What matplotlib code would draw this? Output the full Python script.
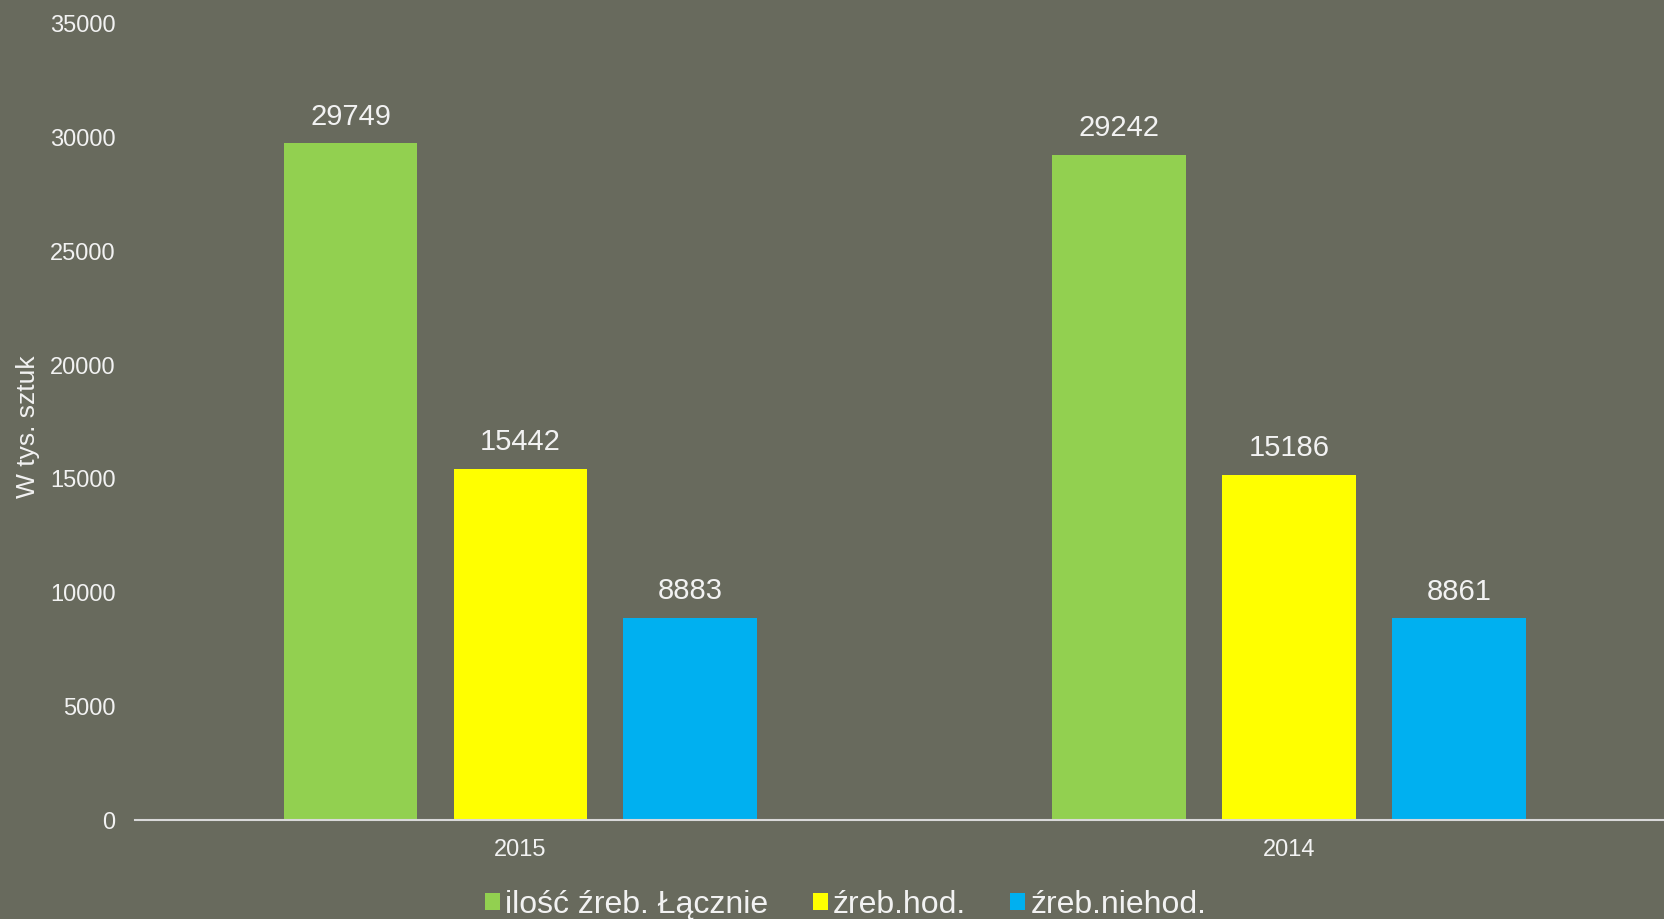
import matplotlib.pyplot as plt
import numpy as np

years = ["2015", "2014"]
series_names = ["ilość źreb. Łącznie", "źreb.hod.", "źreb.niehod."]
total = [29749, 29242]
hod = [15442, 15186]
niehod = [8883, 8861]
colors = ["#92D050", "#FFFF00", "#00B0F0"]

BG = "#686a5d"
TXT = "#f2f2f2"

plt.rcParams['font.family'] = ['Liberation Sans', 'DejaVu Sans']

fig = plt.figure(figsize=(16.65, 9.19), dpi=100, facecolor=BG)
ax = fig.add_axes([0.0811, 0.1077, 0.9189, 0.8662])
ax.set_facecolor(BG)

x = np.arange(len(years))
width = 0.174
step = 0.221
for i, (vals, name, col) in enumerate(zip([total, hod, niehod], series_names, colors)):
    bars = ax.bar(x + (i - 1) * step, vals, width, color=col, label=name)
    for b, v in zip(bars, vals):
        ax.annotate(str(v), (b.get_x() + b.get_width() / 2, v),
                    xytext=(0, 9), textcoords="offset points",
                    ha="center", va="bottom", color=TXT, fontsize=21)

ax.set_xlim(-0.5014, 1.489)
ax.set_ylim(0, 35000)
ax.set_yticks(range(0, 35001, 5000))
ax.set_xticks(x)
ax.set_xticklabels(years)
ax.tick_params(axis='y', length=0, pad=14, labelsize=17, labelcolor=TXT)
ax.tick_params(axis='x', length=0, pad=14, labelsize=17, labelcolor=TXT)

for s in ["top", "right", "left"]:
    ax.spines[s].set_visible(False)
ax.spines["bottom"].set_color("#d9d9d9")
ax.spines["bottom"].set_linewidth(1.5)

fig.text(0.017, 0.536, "W tys. sztuk", rotation=90, ha="center", va="center",
         color=TXT, fontsize=19)

fig.legend(loc="lower center", bbox_to_anchor=(0.508, -0.032), ncol=3, frameon=False,
           fontsize=23, labelcolor=TXT, handlelength=0.47, handleheight=0.47,
           handletextpad=0.17, columnspacing=1.38)

fig.savefig("out.png", dpi=100, facecolor=BG)
